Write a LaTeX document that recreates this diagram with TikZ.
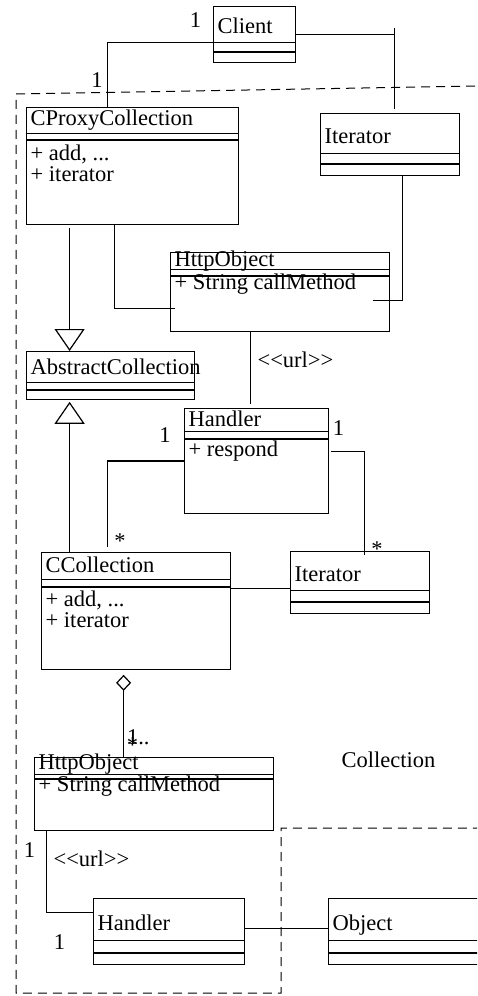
\documentclass[tikz,border=0pt]{standalone}
\usepackage{fontspec}
\setmainfont{Liberation Serif}
\usetikzlibrary{shapes.multipart}
\usetikzlibrary{arrows.meta}
\newcommand{\cpart}[3]{\rule[-#2pt]{0pt}{#1pt}\kern0.1pt\rlap{\smash{#3}}}
\newcommand{\ops}[1]{\begin{tabular}[t]{@{}l@{}}#1\end{tabular}}

\begin{document}
\begin{tikzpicture}
  [x=1pt, y=-1pt, font=\fontsize{22.5}{20}\selectfont, line width=1.2pt,
   umlclass/.style={rectangle split, rectangle split parts=3, draw, inner xsep=4pt, inner ysep=0pt,
     anchor=north west, rectangle split part align={left}},
   mult/.style={inner sep=0pt, anchor=base},
   gen/.style={-{Triangle[open, width=30pt, length=22pt]}},
   agg/.style={-{Diamond[open, width=15pt, length=16pt]}},
   pkg/.style={line width=1pt, dash pattern=on 9pt off 6pt}]
  \clip (0,0) rectangle (477,996);
  \node[umlclass, minimum width=82pt] (client) at (213,6)
    {\cpart{35}{9}{Client}\nodepart{two}\cpart{8}{0}{}\nodepart{three}\cpart{9}{0}{}};
  \node[umlclass, minimum width=212pt] (cproxy) at (26,107)
    {\cpart{25}{7.5}{CProxyCollection}\nodepart{two}\cpart{5}{0}{}\nodepart{three}\cpart{83}{63}{\ops{+ add, ...\\+ iterator}}};
  \node[umlclass, minimum width=139pt] (iter1) at (320,113)
    {\cpart{39}{10}{Iterator}\nodepart{two}\cpart{9}{0}{}\nodepart{three}\cpart{10}{0}{}};
  \node[umlclass, minimum width=219pt] (http1) at (170,252)
    {\cpart{16}{3}{HttpObject}\nodepart{two}\cpart{5}{0}{}\nodepart{three}\cpart{54}{41}{+ String callMethod}};
  \node[umlclass, minimum width=168pt] (abstract) at (26,351)
    {\cpart{30}{8}{AbstractCollection}\nodepart{two}\cpart{6}{0}{}\nodepart{three}\cpart{8}{0}{}};
  \node[umlclass, minimum width=144pt] (handler1) at (184,408)
    {\cpart{22}{5}{Handler}\nodepart{two}\cpart{6}{0}{}\nodepart{three}\cpart{73}{56}{+ respond}};
  \node[umlclass, minimum width=189pt] (ccoll) at (41,552)
    {\cpart{26}{7}{CCollection}\nodepart{two}\cpart{6}{0}{}\nodepart{three}\cpart{81}{62}{\ops{+ add, ...\\+ iterator}}};
  \node[umlclass, minimum width=139pt] (iter2) at (290,551)
    {\cpart{38}{9}{Iterator}\nodepart{two}\cpart{10}{0}{}\nodepart{three}\cpart{10}{0}{}};
  \node[umlclass, minimum width=239pt] (http2) at (34,757)
    {\cpart{16}{5}{HttpObject}\nodepart{two}\cpart{3}{0}{}\nodepart{three}\cpart{50}{38}{+ String callMethod}};
  \node[umlclass, minimum width=151pt] (handler2) at (93,898)
    {\cpart{41}{10}{Handler}\nodepart{two}\cpart{11}{0}{}\nodepart{three}\cpart{10}{0}{}};
  \node[umlclass, minimum width=180pt] (object) at (328,898)
    {\cpart{41}{10}{Object}\nodepart{two}\cpart{11}{0}{}\nodepart{three}\cpart{10}{0}{}};

  \node[mult] (m1) at (195.5,27) {1};
  \node[mult] (m2) at (97,87) {1};
  \node[mult, anchor=base west] (url1) at (257,367) {<\kern0pt<url>\kern0pt>};
  \node[mult] (m3) at (165,442) {1};
  \node[mult] (m4) at (120,548.5) {*};
  \node[mult] (m5) at (338.5,435) {1};
  \node[mult] (m6) at (377,556.5) {*};
  \node[mult, anchor=base west] (m7) at (126.5,744) {1..};
  \node[mult] (m8) at (132.5,752) {*};
  \node[mult, anchor=base west] (pkgname) at (341,767) {Collection};
  \node[mult] (m9) at (29.5,857) {1};
  \node[mult, anchor=base west] (url2) at (53,866) {<\kern0pt<url>\kern0pt>};
  \node[mult] (m10) at (59.5,949) {1};

  \draw (client.text split west) -| ([xshift=-25pt]cproxy.north);
  \draw (client.east) -| coordinate[pos=0.5] (ctick) ([xshift=4.5pt, yshift=4pt]iter1.north);
  \draw (ctick) -- ++(0,-6);
  \draw ([xshift=-18pt]cproxy.south) |- ([xshift=5pt, yshift=-16.5pt]http1.west);
  \draw ([xshift=12.5pt]iter1.south) |- ([xshift=-17pt, yshift=-8.5pt]http1.east);
  \draw[gen] ([xshift=-63pt, yshift=-3pt]cproxy.south) -- ([xshift=-41pt]abstract.north);
  \draw[gen] ([xshift=-66.5pt]ccoll.north) -- ([xshift=-41pt, yshift=-2pt]abstract.south);
  \draw ([xshift=-29.5pt]http1.south) -- ([xshift=-6pt, yshift=4pt]handler1.north);
  \draw (handler1.west) -| ([xshift=-28.5pt, yshift=5pt]ccoll.north);
  \draw ([xshift=2pt, yshift=9.5pt]handler1.east) -| ([xshift=4.5pt, yshift=-4pt]iter2.north);
  \draw ([yshift=22.5pt]ccoll.east) -- ([yshift=22.5pt]ccoll.east -| iter2.west);
  \draw[agg] ([xshift=-30.5pt]http2.north) -- ([xshift=-12.5pt, yshift=-5pt]ccoll.south);
  \draw ([xshift=-107.5pt]http2.south) |- ([yshift=19pt]handler2.west);
  \draw ([yshift=3pt]handler2.east) -- ([yshift=3pt]handler2.east -| object.west);

  \draw[pkg] (490,85.8) -- (16,94) -- (16,993) -- (281,993) -- (281,828) -- (490,828);
\end{tikzpicture}
\end{document}
